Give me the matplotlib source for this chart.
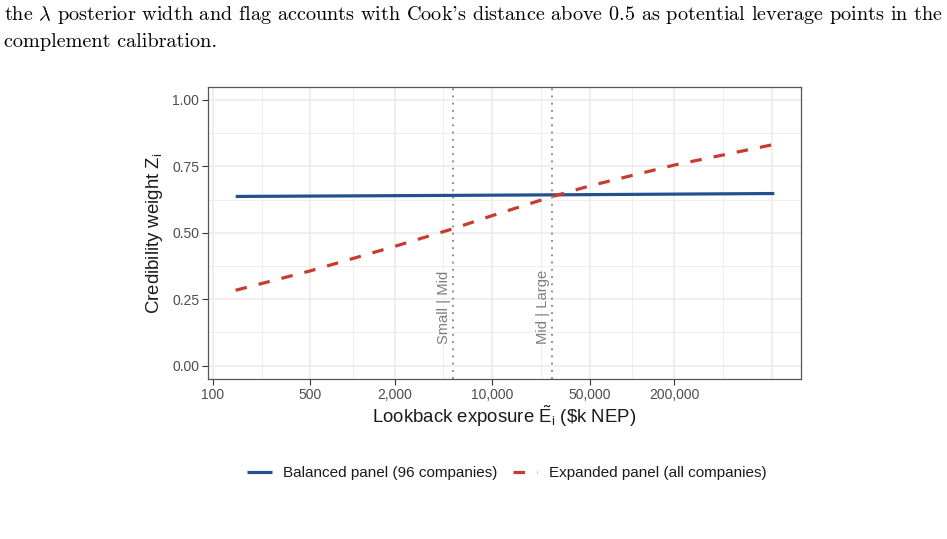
import numpy as np
import matplotlib
matplotlib.use("Agg")
import matplotlib.pyplot as plt
from matplotlib.lines import Line2D

# ---- data ----
balanced_x = [146, 5200, 26600, 1040000]
balanced_z = [0.637, 0.641, 0.643, 0.648]

expanded_x = [146, 500, 2000, 5200, 10000, 26600, 50000, 200000, 1040000]
expanded_z = [0.284, 0.357, 0.449, 0.515, 0.565, 0.636, 0.677, 0.755, 0.833]

tier_cuts = [5200, 26600]
tier_labels = ["Small | Mid", "Mid | Large"]

x_breaks = [100, 500, 2000, 10000, 50000, 200000]
x_labels = ["100", "500", "2,000", "10,000", "50,000", "200,000"]
x_extra_grid = [1000000]
x_minor = [224, 1000, 4472, 22360, 100000, 447000]
y_breaks = [0.0, 0.25, 0.5, 0.75, 1.0]
y_labels = ["0.00", "0.25", "0.50", "0.75", "1.00"]
y_minor = [0.125, 0.375, 0.625, 0.875]

series_names = ["Balanced panel (96 companies)", "Expanded panel (all companies)"]

caption_lines = [
    r"the $\lambda$ posterior width and flag accounts with Cook's distance above 0.5 as potential leverage points in the",
    "complement calibration.",
]

BLUE = "#22518f"
RED = "#c93b2e"
SANS = ["Liberation Sans", "DejaVu Sans"]

plt.rcParams["font.family"] = SANS
plt.rcParams["mathtext.fontset"] = "custom"
plt.rcParams["mathtext.rm"] = "Liberation Sans"
plt.rcParams["mathtext.it"] = "Liberation Sans:italic"

W, H = 947, 539
fig = plt.figure(figsize=(W / 100, H / 100), dpi=100)

left, right, top, bottom = 208.3, 801.0, 86.7, 379.0
ax = fig.add_axes([left / W, 1 - bottom / H, (right - left) / W, (bottom - top) / H])

ax.set_xscale("log")
ax.set_xlim(10 ** 1.9685, 10 ** 6.208)
ax.set_ylim(-0.05, 1.05)

# grid
for xv in x_minor:
    ax.axvline(xv, color="#ebebeb", lw=0.55, zorder=0)
for yv in y_minor:
    ax.axhline(yv, color="#ebebeb", lw=0.55, zorder=0)
for xv in x_breaks + x_extra_grid:
    ax.axvline(xv, color="#ebebeb", lw=1.1, zorder=0)
for yv in y_breaks:
    ax.axhline(yv, color="#ebebeb", lw=1.1, zorder=0)

# tier cut lines
for xc, lab in zip(tier_cuts, tier_labels):
    ax.axvline(xc, color="#808080", lw=1.3, linestyle=(0, (1, 3)), zorder=1)
    ax.annotate(lab, xy=(xc, 0.08), xycoords="data", xytext=(-1.5, 0),
                textcoords="offset points", rotation=90, ha="right", va="bottom",
                fontsize=10.6, color="#7f7f7f")

ax.plot(balanced_x, balanced_z, color=BLUE, lw=2.3, solid_capstyle="butt", zorder=3)
ax.plot(expanded_x, expanded_z, color=RED, lw=2.3, linestyle=(0, (3.6, 3.8)),
        dash_capstyle="butt", zorder=3)

ax.set_xticks(x_breaks)
ax.set_xticklabels(x_labels)
ax.xaxis.set_minor_locator(matplotlib.ticker.NullLocator())
ax.set_yticks(y_breaks)
ax.set_yticklabels(y_labels)
ax.tick_params(axis="both", which="major", length=4, width=0.8, color="#333333",
               labelsize=10, labelcolor="#4d4d4d", pad=2.5)
for sp in ax.spines.values():
    sp.set_color("#555555")
    sp.set_linewidth(0.9)

ax.set_xlabel(r"Lookback exposure $\mathregular{\tilde{E}_i}$ (\$k NEP)", fontsize=13.4, color="#1a1a1a")
ax.set_ylabel(r"Credibility weight $\mathregular{Z_i}$", fontsize=13.4, color="#1a1a1a")
ax.xaxis.set_label_coords(0.5, -0.127)
ax.yaxis.set_label_coords(-0.090, 0.5)
ax.xaxis.label.set_va("center")
ax.yaxis.label.set_va("center")

handles = [
    Line2D([], [], color=BLUE, lw=2.3, solid_capstyle="butt"),
    Line2D([], [], color=RED, lw=2.3, linestyle=(0, (3.6, 3.8)), dash_capstyle="butt"),
]
fig.legend(handles, series_names, loc="center", bbox_to_anchor=(0.535, 1 - 473 / H),
           ncol=2, frameon=False, fontsize=11, handlelength=1.6, handletextpad=0.75,
           columnspacing=1.0, labelcolor="#1a1a1a")

# caption text above the figure
fig.text(4 / W, 1 - 20.5 / H, caption_lines[0], family="cmr10", math_fontfamily="cm",
         fontsize=14.57, ha="left", va="baseline", color="black")
fig.text(4 / W, 1 - 47 / H, caption_lines[1], family="cmr10", math_fontfamily="cm",
         fontsize=14.57, ha="left", va="baseline", color="black")

fig.savefig("out.png", dpi=100)
